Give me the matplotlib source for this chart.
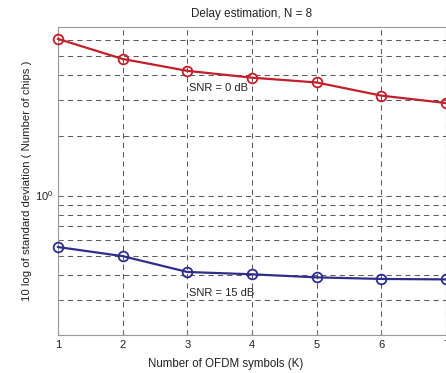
import matplotlib
matplotlib.use("Agg")
import matplotlib.pyplot as plt
from matplotlib.ticker import NullFormatter, LogLocator, FixedLocator

plt.rcParams['font.family'] = ['Liberation Sans', 'DejaVu Sans']

# data
k_symbols = [1, 2, 3, 4, 5, 6, 7]
std_snr0 = [6.1, 4.84, 4.22, 3.9, 3.69, 3.17, 2.91]
std_snr15 = [0.552, 0.497, 0.414, 0.403, 0.389, 0.382, 0.38]
x_ticks = [1, 2, 3, 4, 5, 6, 7]

fig = plt.figure(figsize=(4.46, 3.73), dpi=100)
ax = fig.add_axes([58 / 446, (373 - 335) / 373, 388 / 446, 308 / 373])

red = '#c21f2b'
blue = '#2e2e8c'
ax.plot(k_symbols, std_snr0, color=red, lw=1.6, marker='o', ms=7,
        mfc='none', mec=red, mew=1.3, clip_on=False, zorder=3)
ax.plot(k_symbols, std_snr15, color=blue, lw=1.6, marker='o', ms=7,
        mfc='none', mec=blue, mew=1.3, clip_on=False, zorder=3)

ax.set_yscale('log')
ax.set_xlim(1, 7)
ax.set_ylim(0.2, 7)
ax.set_xticks(x_ticks)
ax.yaxis.set_major_locator(FixedLocator([1.0]))
ax.yaxis.set_minor_locator(LogLocator(base=10, subs=range(2, 10), numticks=20))
ax.yaxis.set_minor_formatter(NullFormatter())

grid_kw = dict(color='#5a5a5a', linestyle=(0, (5, 4)), linewidth=0.75)
ax.grid(True, which='major', axis='both', **grid_kw)
ax.grid(True, which='minor', axis='y', **grid_kw)

for s in ax.spines.values():
    s.set_color('#999999')
    s.set_linewidth(0.8)
ax.tick_params(which='both', direction='in', color='#777777', labelsize=8,
               labelcolor='#222222')
ax.tick_params(which='major', length=3)
ax.tick_params(which='minor', length=2)

ax.text(3.02, 3.45, 'SNR = 0 dB', fontsize=8, color='#222222', va='center')
ax.text(3.02, 0.323, 'SNR = 15 dB', fontsize=8, color='#222222', va='center')

ax.set_title('Delay estimation, N = 8', fontsize=8.4, color='#222222', pad=7)
ax.set_xlabel('Number of OFDM symbols (K)', fontsize=8.3, color='#222222')
ax.xaxis.set_label_coords(0.433, -0.075)
ax.set_ylabel('10 log of standard deviation ( Number of chips )', fontsize=8.2,
              color='#222222')
ax.yaxis.set_label_coords(-0.068, 0.5)

fig.savefig('out.png', dpi=100)
